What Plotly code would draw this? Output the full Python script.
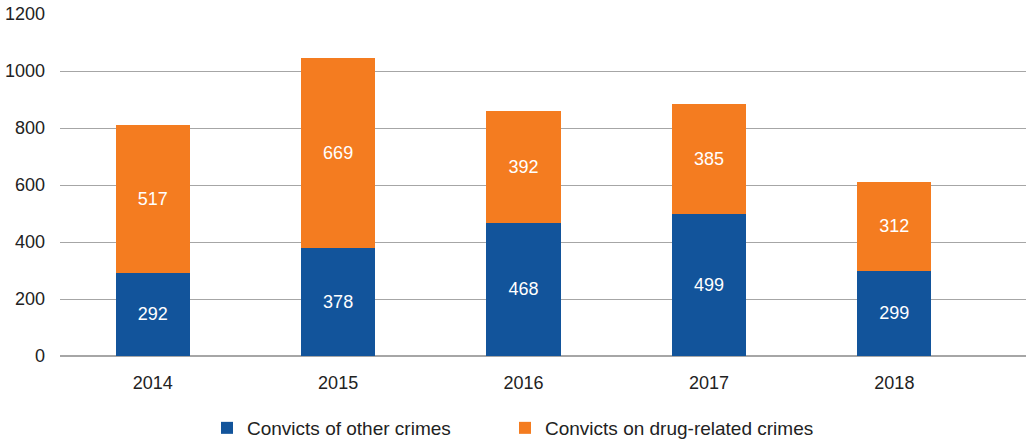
import plotly.graph_objects as go

years = ["2014", "2015", "2016", "2017", "2018"]
other_crimes = [292, 378, 468, 499, 299]
drug_crimes = [517, 669, 392, 385, 312]
y_ticks = [0, 200, 400, 600, 800, 1000, 1200]

BLUE = "#12549b"
ORANGE = "#f47c20"
FONT = "Liberation Sans, Arial, sans-serif"

fig = go.Figure()
fig.add_trace(go.Bar(
    x=years, y=other_crimes, name="Convicts of other crimes",
    marker=dict(color=BLUE, line=dict(width=0)),
    text=other_crimes, textposition="inside", insidetextanchor="middle",
    textfont=dict(color="white", size=18, family=FONT), width=0.4,
    legend="legend",
))
fig.add_trace(go.Bar(
    x=years, y=drug_crimes, name="Convicts on drug-related crimes",
    marker=dict(color=ORANGE, line=dict(width=0)),
    text=drug_crimes, textposition="inside", insidetextanchor="middle",
    textfont=dict(color="white", size=18, family=FONT), width=0.4,
    legend="legend2",
))

leg_common = dict(orientation="h", xanchor="left", y=-(428 - 356) / 342, yanchor="middle",
                  font=dict(size=19, color="#222222"), itemwidth=30,
                  bgcolor="rgba(0,0,0,0)")

fig.update_layout(
    barmode="stack",
    width=1026, height=442,
    margin=dict(l=60, r=0, t=14, b=86, autoexpand=False),
    plot_bgcolor="white", paper_bgcolor="white",
    font=dict(family=FONT, size=18, color="#222222"),
    showlegend=True,
    legend=dict(x=(207 - 60) / 966, **leg_common),
    legend2=dict(x=(505 - 60) / 966, **leg_common),
    uniformtext=dict(mode="show", minsize=18),
)
fig.update_xaxes(
    type="category", range=[-0.5, 4.71], showgrid=False, showline=False,
    ticks="", tickfont=dict(size=18), ticklabelstandoff=14,
)
fig.update_yaxes(
    range=[0, 1200], tickvals=y_ticks, showgrid=True, gridcolor="#a6a6a6", gridwidth=1,
    zeroline=True, zerolinecolor="#a6a6a6", zerolinewidth=2, ticks="", ticklabelstandoff=14,
    tickfont=dict(size=18),
)

fig.write_html("out.html")
